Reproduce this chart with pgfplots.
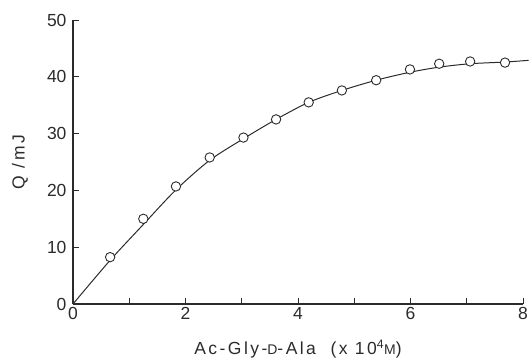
\documentclass[border=0pt]{standalone}
\usepackage{fontspec}
\setmainfont{Liberation Sans}
\newfontfamily\spaced[LetterSpace=14]{Liberation Sans}
\usepackage{pgfplots}
\pgfplotsset{compat=1.18}
\definecolor{ink}{HTML}{2B2B2B}
\begin{document}
\begin{tikzpicture}
\path[use as bounding box] (-73pt,-58pt) rectangle (459pt,304pt);
\begin{axis}[
 scale only axis, width=450pt, height=284pt,
 xmin=0, xmax=8, ymin=0, ymax=50,
 axis lines=left, axis line style={-, ink, line width=1.1pt},
 tick align=inside, major tick length=6pt, tick style={ink, line width=1pt},
 xtick={0,...,8}, xticklabels={0,,2,,4,,6,,8},
 ytick={0,10,...,50},
 ticklabel style={font=\fontsize{17.5}{17.5}\selectfont, text=ink},
 yticklabel style={xshift=-3pt},
 /pgf/number format/assume math mode=true,
 xlabel={\spaced Ac-Gly-{\fontsize{14}{14}\selectfont D}-Ala\ \ (x 10\textsuperscript{4}{\fontsize{14}{14}\selectfont M})},
 ylabel={\spaced Q /mJ},
 label style={font=\fontsize{17.5}{17.5}\selectfont, text=ink},
 xlabel style={at={(axis description cs:0.5,-0.1585)}, anchor=center},
 ylabel style={at={(axis description cs:-0.1178,0.5)}, anchor=center},
 clip=false,
]
\addplot[ink, line width=1pt, smooth, tension=0.5] coordinates {
(0,0) (0.66,7.7) (1.25,14.0) (1.83,20.1) (2.43,25.3) (3.03,29.1) (3.61,32.5)
(4.19,35.5) (4.78,37.6) (5.39,39.4) (5.99,40.8) (6.51,41.7) (7.06,42.3)
(7.68,42.6) (8.1,42.9)};
\addplot[only marks, mark=*, mark size=4.7pt, mark options={draw=ink, fill=white, line width=0.9pt}] coordinates {
(0.66,8.25) (1.25,15.0) (1.83,20.7) (2.43,25.8) (3.03,29.3) (3.61,32.5)
(4.19,35.5) (4.78,37.6) (5.39,39.4) (5.99,41.3) (6.51,42.3) (7.06,42.7) (7.68,42.5)};
\end{axis}
\end{tikzpicture}
\end{document}
